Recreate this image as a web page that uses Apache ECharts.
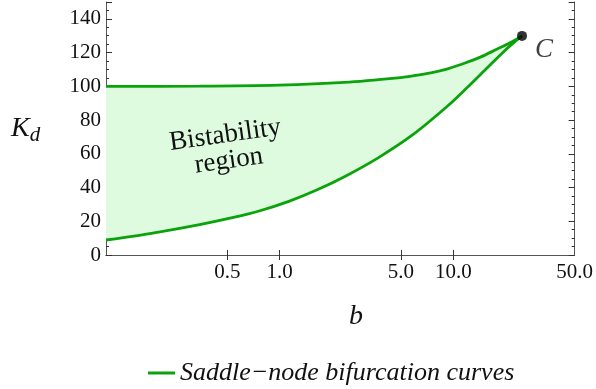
<!DOCTYPE html>
<html>
<head>
<meta charset="utf-8">
<script src="https://cdn.jsdelivr.net/npm/echarts@6/dist/echarts.min.js"></script>
<style>
  html, body { margin: 0; padding: 0; background: #fff; }
  #chart { width: 596px; height: 389px; }
</style>
</head>
<body>
<div id="chart"></div>
<script>
// Upper saddle-node branch (b, K_d)
const upperB = [0.1, 0.346, 0.99, 2.361, 4.806, 5.93, 7.418, 9.28, 11.6, 14.32, 17.91, 20.98, 24.89];
const upperK = [100.0, 100.1, 100.7, 102.3, 105.0, 106.3, 108.0, 110.4, 113.7, 117.3, 122.1, 125.5, 129.9];

// Lower saddle-node branch (b, K_d)
const lowerB = [0.1, 0.179, 0.346, 0.534, 0.762, 1.13, 1.634, 2.361, 3.693, 5.853, 9.278, 12.07, 15.7, 19.64, 22.12, 24.89];
const lowerK = [8.9, 12.7, 18.0, 22.1, 26.1, 31.8, 38.5, 46.4, 57.6, 71.3, 88.3, 99.4, 111.0, 120.8, 125.6, 129.9];

// Cusp point C
const cuspB = 24.89;
const cuspK = 129.9;

// Axis ticks
const xTicks = [0.5, 1.0, 5.0, 10.0, 50.0];
const yTicks = [0, 20, 40, 60, 80, 100, 120, 140];

const seriesName = 'Saddle\u2212node bifurcation curves';
const curveColor = '#0ba30b';
const fillColor = '#dffbdf';
const serif = 'Liberation Serif, Times New Roman, DejaVu Serif, serif';

const upperData = upperB.map((b, i) => [b, upperK[i]]);
const lowerData = lowerB.map((b, i) => [b, lowerK[i]]);

const chart = echarts.init(document.getElementById('chart'), null, { renderer: 'canvas' });

const xBase = {
  type: 'log',
  logBase: 10,
  min: 0.1,
  max: 50,
  splitLine: { show: false },
  axisLine: { show: true, lineStyle: { color: '#555', width: 1 } },
  axisTick: { show: true, inside: true, length: 5, customValues: xTicks.slice(0, 4), lineStyle: { color: '#333' } },
  minorTick: { show: false }
};
const yBase = {
  type: 'value',
  min: 0,
  max: 150,
  interval: 20,
  splitLine: { show: false },
  axisLine: { show: true, lineStyle: { color: '#555', width: 1 } },
  axisTick: { show: true, inside: true, length: 6, lineStyle: { color: '#333' } },
  minorTick: { show: true, splitNumber: 4, length: 3, lineStyle: { color: '#333' } }
};

chart.setOption({
  animation: false,
  grid: { left: 106, right: 18, top: 2, bottom: 134, containLabel: false },
  legend: {
    data: [seriesName],
    left: 143,
    top: 355,
    icon: 'rect',
    itemWidth: 27,
    itemHeight: 3,
    textStyle: { fontFamily: serif, fontStyle: 'italic', fontSize: 26, color: '#111' }
  },
  xAxis: [
    Object.assign({}, xBase, {
      position: 'bottom',
      axisLabel: {
        show: true,
        customValues: xTicks,
        margin: 7,
        fontFamily: serif,
        fontSize: 21,
        color: '#111',
        formatter: v => Number(v).toFixed(1)
      }
    }),
    Object.assign({}, xBase, { position: 'top', axisLabel: { show: false } })
  ],
  yAxis: [
    Object.assign({}, yBase, {
      position: 'left',
      axisLabel: {
        show: true,
        showMaxLabel: false,
        margin: 5,
        fontFamily: serif,
        fontSize: 21,
        color: '#111'
      }
    }),
    Object.assign({}, yBase, { position: 'right', axisLabel: { show: false } })
  ],
  graphic: [
    {
      type: 'text',
      x: 227,
      y: 148,
      rotation: 0.14,
      z: 50,
      style: {
        text: 'Bistability\nregion',
        x: 0,
        y: 0,
        align: 'center',
        verticalAlign: 'middle',
        fontFamily: serif,
        fontSize: 27,
        lineHeight: 26,
        fill: '#111'
      }
    },
    {
      type: 'text',
      left: 11,
      top: 115,
      style: {
        text: '{k|K}{d|d}',
        rich: {
          k: { fontFamily: serif, fontStyle: 'italic', fontSize: 28, fill: '#111' },
          d: { fontFamily: serif, fontStyle: 'italic', fontSize: 21, fill: '#111', padding: [12, 0, 0, 0] }
        }
      }
    },
    {
      type: 'text',
      left: 349,
      top: 303,
      style: { text: 'b', fontFamily: serif, fontStyle: 'italic', fontSize: 28, fill: '#111' }
    }
  ],
  series: [
    {
      type: 'custom',
      name: 'fill',
      coordinateSystem: 'cartesian2d',
      xAxisIndex: 0,
      yAxisIndex: 0,
      silent: true,
      z: 1,
      data: [[1, 50]],
      renderItem: function (params, api) {
        const pts = [];
        upperData.forEach(p => pts.push(api.coord(p)));
        for (let i = lowerData.length - 1; i >= 0; i--) pts.push(api.coord(lowerData[i]));
        return {
          type: 'polygon',
          shape: { points: pts },
          style: { fill: fillColor, stroke: null }
        };
      }
    },
    {
      type: 'line',
      name: seriesName,
      data: upperData,
      showSymbol: false,
      symbol: 'none',
      smooth: 0.3,
      z: 3,
      color: curveColor,
      lineStyle: { color: curveColor, width: 2.8 }
    },
    {
      type: 'line',
      name: seriesName,
      data: lowerData,
      showSymbol: false,
      symbol: 'none',
      smooth: 0.3,
      z: 3,
      color: curveColor,
      lineStyle: { color: curveColor, width: 2.8 }
    },
    {
      type: 'scatter',
      name: 'C',
      data: [[cuspB, cuspK]],
      symbol: 'circle',
      symbolSize: 10,
      z: 5,
      itemStyle: { color: '#000' },
      label: {
        show: true,
        formatter: 'C',
        position: 'right',
        offset: [3, 14],
        fontFamily: serif,
        fontStyle: 'italic',
        fontSize: 27,
        color: '#111'
      }
    }
  ]
});
</script>
</body>
</html>
